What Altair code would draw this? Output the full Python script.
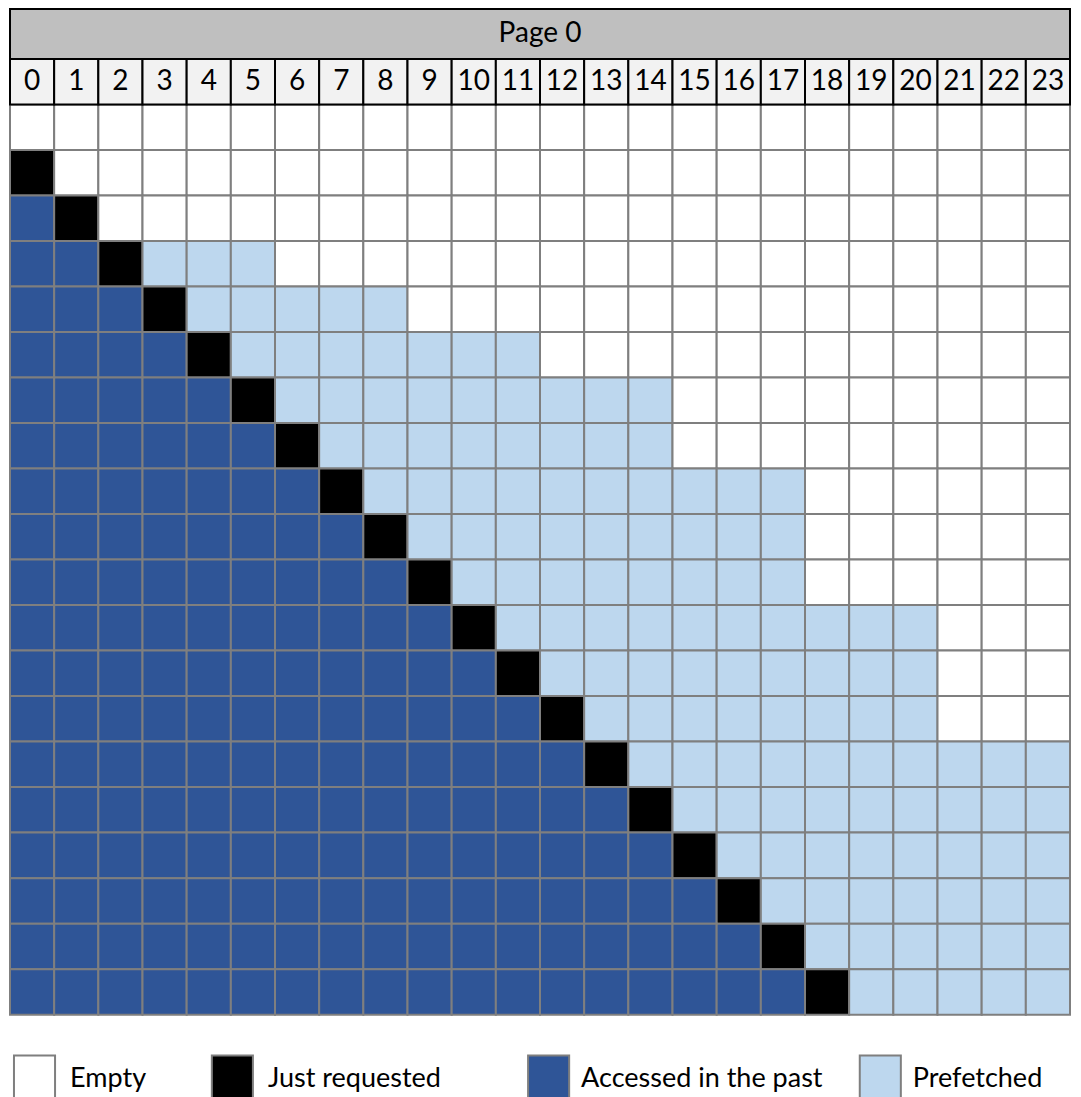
import altair as alt
import pandas as pd

# ---- data ----
columns = list(range(24))
n_rows = 20
# column of the "just requested" page in each row (None = no request yet)
requested_col = [None, 0, 1, 2, 3, 4, 5, 6, 7, 8, 9, 10, 11, 12, 13, 14, 15, 16, 17, 18]
# last prefetched column in each row (-1 = nothing prefetched)
prefetch_last = [-1, -1, -1, 5, 8, 11, 14, 14, 17, 17, 17, 20, 20, 20, 23, 23, 23, 23, 23, 23]
states = ["Empty", "Just requested", "Accessed in the past", "Prefetched"]
state_colors = ["#FFFFFF", "#000000", "#2F5597", "#BDD7EE"]
header_label = "Page 0"

# ---- layout (not data) ----
legend_sq_x = [0.09, 4.57, 11.73, 19.24]
legend_txt_x = [1.36, 5.84, 12.93, 20.44]
SQ_W = 0.93
Y_TOP = -2.1
Y_BOT = 21.81
FONT = "Lato"

cells = []
for r in range(n_rows):
    req = requested_col[r]
    for c in columns:
        if req is None:
            s = "Empty"
        elif c < req:
            s = "Accessed in the past"
        elif c == req:
            s = "Just requested"
        elif c <= prefetch_last[r]:
            s = "Prefetched"
        else:
            s = "Empty"
        cells.append({"x0": c, "x1": c + 1, "y0": r, "y1": r + 1, "state": s})
cells = pd.DataFrame(cells)

nums = pd.DataFrame({"x0": columns, "x1": [c + 1 for c in columns],
                     "xc": [c + 0.5 for c in columns],
                     "y0": [-1] * 24, "y1": [0] * 24, "yc": [-0.5] * 24,
                     "label": [str(c) for c in columns]})

header = pd.DataFrame({"x0": [0], "x1": [24], "y0": [Y_TOP], "y1": [-1],
                       "xc": [12], "yc": [(Y_TOP - 1) / 2], "label": [header_label]})

legend = pd.DataFrame({"state": states,
                       "x0": legend_sq_x, "x1": [v + SQ_W for v in legend_sq_x],
                       "xt": legend_txt_x,
                       "y0": [20.9] * 4, "y1": [21.9] * 4, "yt": [21.58] * 4})

xs = alt.Scale(domain=[0, 24], nice=False, zero=False)
ys = alt.Scale(domain=[Y_TOP, Y_BOT], nice=False, zero=False, reverse=True)
cs = alt.Scale(domain=states, range=state_colors)

grid = alt.Chart(cells).mark_rect(stroke="#7F7F7F", strokeWidth=2).encode(
    x=alt.X("x0:Q", scale=xs, axis=None), x2="x1:Q",
    y=alt.Y("y0:Q", scale=ys, axis=None), y2="y1:Q",
    color=alt.Color("state:N", scale=cs, legend=None),
)

num_cells = alt.Chart(nums).mark_rect(fill="#F2F2F2", stroke="#000000", strokeWidth=2).encode(
    x=alt.X("x0:Q", scale=xs, axis=None), x2="x1:Q",
    y=alt.Y("y0:Q", scale=ys, axis=None), y2="y1:Q",
)
num_text = alt.Chart(nums).mark_text(font=FONT, fontSize=28, baseline="middle",
                                     align="center", color="#000000").encode(
    x=alt.X("xc:Q", scale=xs, axis=None),
    y=alt.Y("yc:Q", scale=ys, axis=None),
    text="label:N",
)

head_rect = alt.Chart(header).mark_rect(fill="#BFBFBF", stroke="#000000", strokeWidth=2).encode(
    x=alt.X("x0:Q", scale=xs, axis=None), x2="x1:Q",
    y=alt.Y("y0:Q", scale=ys, axis=None), y2="y1:Q",
)
head_text = alt.Chart(header).mark_text(font=FONT, fontSize=28, baseline="middle",
                                        align="center", color="#000000").encode(
    x=alt.X("xc:Q", scale=xs, axis=None),
    y=alt.Y("yc:Q", scale=ys, axis=None),
    text="label:N",
)

leg_sq = alt.Chart(legend).mark_rect(stroke="#7F7F7F", strokeWidth=2).encode(
    x=alt.X("x0:Q", scale=xs, axis=None), x2="x1:Q",
    y=alt.Y("y0:Q", scale=ys, axis=None), y2="y1:Q",
    color=alt.Color("state:N", scale=cs, legend=None),
)
leg_txt = alt.Chart(legend).mark_text(font=FONT, fontSize=27, baseline="alphabetic",
                                      align="left", color="#000000").encode(
    x=alt.X("xt:Q", scale=xs, axis=None),
    y=alt.Y("yt:Q", scale=ys, axis=None),
    text="state:N",
)

chart = alt.layer(grid, num_cells, head_rect, num_text, head_text, leg_sq, leg_txt).properties(
    width=1060, height=1088,
    autosize=alt.AutoSizeParams(type="none"),
    padding={"left": 2, "top": 1, "right": 1, "bottom": 0},
).configure_view(stroke=None)

chart.save("out.html", embed_options={"renderer": "svg", "actions": False})
